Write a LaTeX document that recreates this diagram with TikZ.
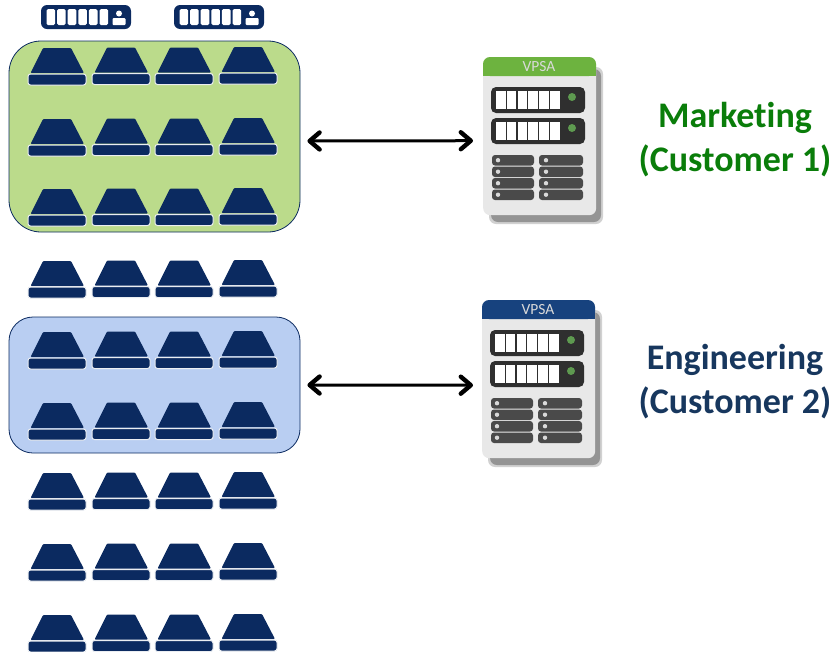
\documentclass[tikz,border=0pt]{standalone}
\usepackage{fontspec}
\setmainfont{Carlito}[RawFeature={-liga}]
\usetikzlibrary{arrows.meta}
\definecolor{navy}{HTML}{0B2A60}
\definecolor{panelgreen}{HTML}{BBDB8B}
\definecolor{panelblue}{HTML}{B9CEF2}
\definecolor{vpsagreen}{HTML}{6DB33F}
\definecolor{vpsablue}{HTML}{17427E}
\definecolor{labelgreen}{HTML}{0A7D0A}
\definecolor{labelblue}{HTML}{17375E}
\definecolor{slotdark}{HTML}{2F2F2F}
\definecolor{rowdark}{HTML}{4A4A4A}
\definecolor{ledgreen}{HTML}{5E9A50}
\tikzset{
	panel/.style={draw=navy, line width=0.8pt, inner sep=0pt},
	vpsabody/.style={fill=black!9, rounded corners=7pt, inner sep=0pt, minimum width=113pt, minimum height=158pt},
	vpsatitle/.style={text=white!85!black, font=\fontsize{15.5}{15.5}\selectfont, inner sep=0pt},
	customer/.style={font=\fontsize{36}{44}\selectfont\bfseries, align=center, inner sep=0pt},
	link/.style={{Straight Barb[length=10pt,width=17pt,line width=4.4pt,round]}-{Straight Barb[length=10pt,width=17pt,line width=4.4pt,round]}, line width=3pt, black},
}
\begin{document}
\begin{tikzpicture}[x=1pt,y=-1pt]
	\useasboundingbox (0,0) rectangle (834,651);
	% --- Pools ---
	\node[panel, rounded corners=32pt, fill=panelgreen, minimum width=291pt, minimum height=191pt] (poolA) at (154.5,136.5) {};
	\node[panel, rounded corners=24pt, fill=panelblue, minimum width=291pt, minimum height=136pt] (poolB) at (154.5,385) {};
	% --- Drive rows (top edge of each row) ---
	\foreach \rowy in {48,119,189,261,332,403,473,544,615}{
		\foreach \colx/\dy in {57/0,121/-0.5,184/-0.5,248/-1}{
			\fill[navy, rounded corners=1pt] (\colx-26.5,\rowy+\dy+25) -- (\colx-14,\rowy+\dy) -- (\colx+14,\rowy+\dy) -- (\colx+27,\rowy+\dy+25) -- cycle;
			\draw[white!92!navy, line width=1pt, fill=navy, rounded corners=2.5pt] (\colx-29,\rowy+\dy+26) rectangle (\colx+29,\rowy+\dy+37);
		}
	}
	% --- Enclosures above the drives ---
	\foreach \encx in {41,174}{
		\fill[navy, rounded corners=6pt] (\encx,5) rectangle ++(90,24);
		\foreach \i in {0,...,5}
			\fill[white, rounded corners=1.5pt] (\encx+5.5+\i*10.6,9) rectangle ++(8.6,16);
		\fill[white] (\encx+78,13.5) circle (3);
		\fill[white, rounded corners=1pt] (\encx+71.5,18) rectangle ++(13,7);
	}
	% --- VPSA servers ---
	\foreach \name/\sx/\sy/\hdr in {A/483/57/vpsagreen,B/482/300/vpsablue}{
		\fill[black!18, rounded corners=7pt] (\sx+6,\sy+10) rectangle ++(114,157);
		\fill[black!42, rounded corners=7pt] (\sx+8,\sy+12) rectangle ++(110,153);
		\node[vpsabody, anchor=north west] (vpsa\name) at (\sx,\sy) {};
		\fill[\hdr, rounded corners=7pt] (\sx,\sy) rectangle ++(113,19);
		\fill[\hdr] (\sx,\sy+10) rectangle ++(113,9);
		\node[vpsatitle] (title\name) at (\sx+56,\sy+10) {VPSA};
		\foreach \py/\ledy in {30/40,61/71}{
			\fill[slotdark, rounded corners=5pt] (\sx+8,\sy+\py) rectangle ++(94,26);
			\foreach \i in {0,...,5}
				\fill[white] (\sx+13+\i*10.8,\sy+\py+4) rectangle ++(9.6,18);
			\fill[ledgreen] (\sx+89,\sy+\ledy) circle (4);
		}
		\foreach \ry in {98,109.5,121,132.5}{
			\fill[rowdark, rounded corners=3pt] (\sx+9,\sy+\ry) rectangle ++(42,10.5);
			\fill[rowdark, rounded corners=3pt] (\sx+56,\sy+\ry) rectangle ++(44,10.5);
			\fill[white!85!black] (\sx+15,\sy+\ry+5.2) circle (2.2);
			\fill[white!85!black] (\sx+63,\sy+\ry+5.2) circle (2.2);
		}
	}
	% --- Links ---
	\draw[link, shorten <=7pt, shorten >=10pt] ([yshift=-4.5pt]poolA.east) -- ([yshift=-4.5pt]vpsaA.west);
	\draw[link, shorten <=7pt, shorten >=9pt] (poolB.east) -- ([yshift=-6pt]vpsaB.west);
	% --- Customer labels ---
	\node[customer, text=labelgreen] (labelA) at (735,139.5) {Marketing\\(Customer 1)};
	\node[customer, text=labelblue] (labelB) at (735,381.5) {Engineering\\(Customer 2)};
\end{tikzpicture}
\end{document}
